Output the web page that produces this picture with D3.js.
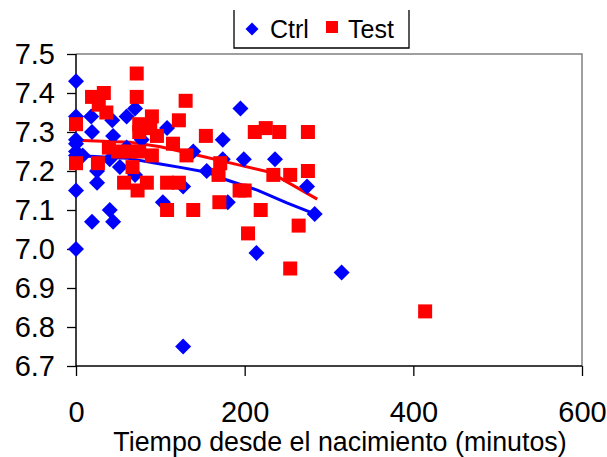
<!DOCTYPE html>
<html><head><meta charset="utf-8">
<script src="https://cdn.jsdelivr.net/npm/d3@7"></script>
<style>body{margin:0;background:#fff}svg{display:block}text{font-family:Arial,"Liberation Sans",sans-serif}</style>
</head><body>
<svg id="c" width="607" height="457"></svg>
<script>
// Data (minutes, value)
const ctrlX = [0,0,0,0,0,0,0,0,8,18,19,25,25,19,43,44,40,40,44,52,60,60,70,70,78,103,108,127,127,139,155,174,174,180,195,199,214,236,274,283,315];
const ctrlY = [7.43,7.34,7.28,7.27,7.25,7.24,7.15,7.00,7.24,7.34,7.30,7.20,7.17,7.07,7.33,7.29,7.23,7.10,7.07,7.21,7.34,7.26,7.36,7.19,7.28,7.12,7.31,7.16,6.75,7.25,7.20,7.28,7.23,7.12,7.36,7.23,6.99,7.23,7.16,7.09,6.94];
const testX = [0,0,19,33,27,36,26,39,50,57,64,67,72,72,75,75,75,73,84,88,90,90,96,108,108,115,122,122,130,131,139,154,169,170,171,194,200,204,212,219,225,234,241,254,254,264,275,275,414];
const testY = [7.32,7.22,7.39,7.40,7.37,7.35,7.22,7.26,7.25,7.17,7.25,7.21,7.45,7.39,7.32,7.30,7.25,7.15,7.17,7.31,7.34,7.24,7.29,7.17,7.10,7.27,7.33,7.17,7.38,7.24,7.10,7.29,7.19,7.12,7.22,7.15,7.15,7.04,7.30,7.10,7.31,7.19,7.30,7.19,6.95,7.06,7.30,7.20,6.84];
// Moving-average trend lines
const ctrlTrendX = [0,60,100,127,155,179,215,250,283];
const ctrlTrendY = [7.240,7.233,7.218,7.208,7.197,7.177,7.151,7.118,7.090];
const testTrendX = [0,64,100,143,194,230,286];
const testTrendY = [7.279,7.274,7.262,7.241,7.215,7.197,7.128];
const xTicks = [0,200,400,600];
const yTicks = [7.5,7.4,7.3,7.2,7.1,7.0,6.9,6.8,6.7];
const xTitle = "Tiempo desde el nacimiento (minutos)";
const seriesNames = ["Ctrl","Test"];

const svg = d3.select("#c");
const x = d3.scaleLinear().domain([0,600]).range([76,582]);
const y = d3.scaleLinear().domain([6.7,7.5]).range([366,54]);

// frame (top/right gray)
svg.append("path").attr("d",`M${x(0)},${y(7.5)}H${x(600)}V${y(6.7)}`)
  .attr("fill","none").attr("stroke","#808080").attr("stroke-width",1.5);

// axes
const ya = svg.append("g").attr("transform",`translate(${x(0)},0)`)
  .call(d3.axisLeft(y).tickValues(yTicks).tickFormat(d3.format(".1f")).tickSize(9).tickPadding(12));
const xa = svg.append("g").attr("transform",`translate(0,${y(6.7)})`)
  .call(d3.axisBottom(x).tickValues(xTicks).tickFormat(d3.format("d")).tickSize(10).tickPadding(25));
[ya,xa].forEach(g=>{
  g.select(".domain").attr("stroke","#000").attr("stroke-width",1.5);
  g.selectAll(".tick line").attr("stroke","#000").attr("stroke-width",1.3);
  g.selectAll("text").attr("font-size",29).attr("fill","#000").attr("font-family","Arial, 'Liberation Sans', sans-serif");
});
ya.select(".domain").attr("d",`M0,${y(7.5)}V${y(6.7)}`);
xa.select(".domain").attr("d",`M${x(0)},0H${x(600)}`);

svg.append("text").attr("x",340).attr("y",451).attr("text-anchor","middle")
  .attr("font-size",26.8).text(xTitle);

// trend lines
const line = d3.line().x(d=>x(d[0])).y(d=>y(d[1]));
svg.append("path").datum(ctrlTrendX.map((v,i)=>[v,ctrlTrendY[i]]))
  .attr("d",line).attr("fill","none").attr("stroke","#0000FF").attr("stroke-width",3);
svg.append("path").datum(testTrendX.map((v,i)=>[v,testTrendY[i]]))
  .attr("d",line).attr("fill","none").attr("stroke","#FF0000").attr("stroke-width",3);

// markers
const dia = r=>`M0,${-r}L${r},0L0,${r}L${-r},0Z`;
svg.append("g").selectAll("path").data(ctrlX.map((v,i)=>[v,ctrlY[i]])).join("path")
  .attr("transform",d=>`translate(${x(d[0])},${y(d[1])})`).attr("d",dia(8)).attr("fill","#0000FF");
svg.append("g").selectAll("rect").data(testX.map((v,i)=>[v,testY[i]])).join("rect")
  .attr("x",d=>x(d[0])-7).attr("y",d=>y(d[1])-7).attr("width",14).attr("height",14).attr("fill","#FF0000");

// legend
const lg = svg.append("g");
lg.append("path").attr("d","M234,10V48H409V10").attr("fill","#fff").attr("stroke","#000").attr("stroke-width",1.3);
lg.append("path").attr("transform","translate(252,29)").attr("d",dia(6.5)).attr("fill","#0000FF");
lg.append("text").attr("x",270).attr("y",37.5).attr("font-size",25).text(seriesNames[0]);
lg.append("rect").attr("x",326).attr("y",21).attr("width",12).attr("height",12).attr("fill","#FF0000");
lg.append("text").attr("x",348).attr("y",37.5).attr("font-size",25).text(seriesNames[1]);
</script>
</body></html>
